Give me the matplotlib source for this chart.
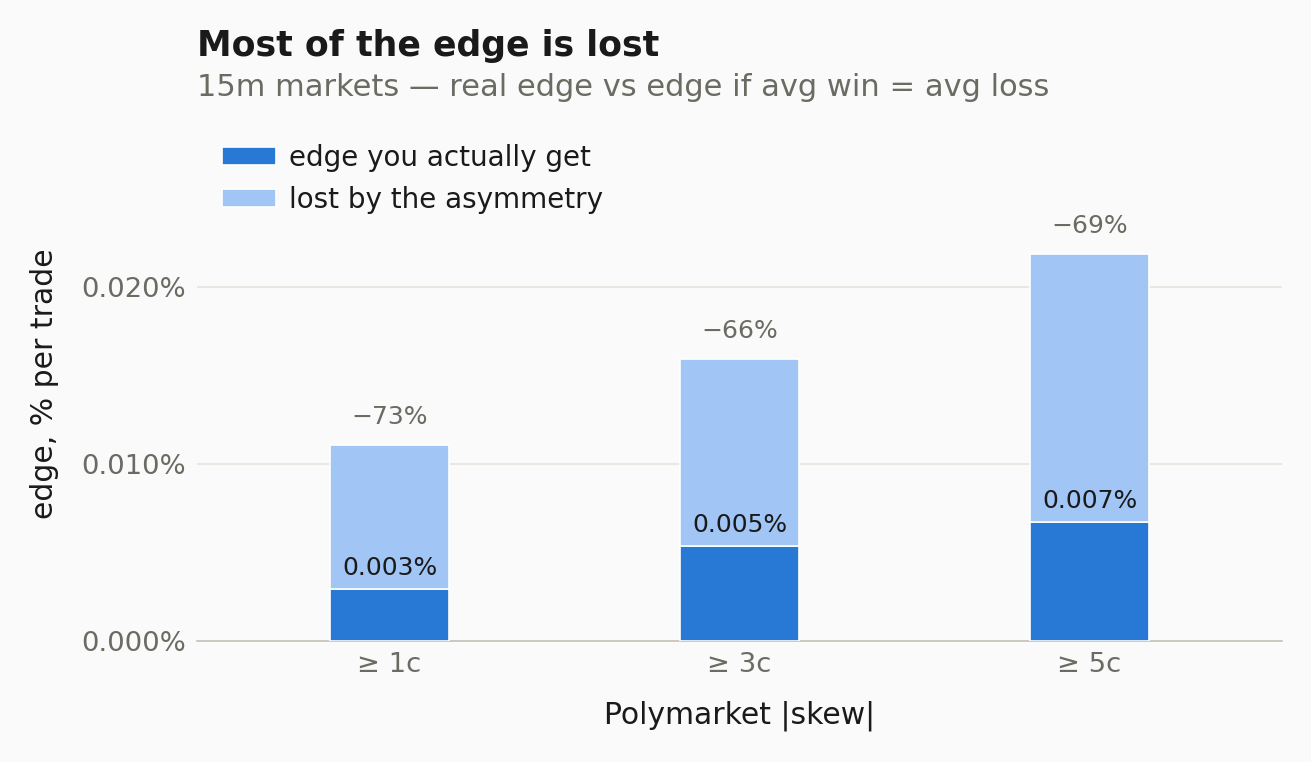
import matplotlib
matplotlib.use("Agg")
import matplotlib.pyplot as plt
import numpy as np
from matplotlib.ticker import FuncFormatter

categories = ["\u2265 1c", "\u2265 3c", "\u2265 5c"]
real_edge = [0.00294, 0.00537, 0.00672]
ideal_edge = [0.01107, 0.01593, 0.02186]

BG = "#fafafa"
DARK = "#2878d6"
LIGHT = "#a1c5f4"
INK = "#1a1a1a"
MUTED = "#6b6b63"

lost = [i - r for i, r in zip(ideal_edge, real_edge)]
x = np.arange(len(categories))

fig = plt.figure(figsize=(13.11, 7.62), dpi=100, facecolor=BG)
ax = fig.add_axes([197 / 1311, 1 - 641 / 762, 1085 / 1311, (641 - 127) / 762])
ax.set_facecolor(BG)

w = 0.34
ax.bar(x, real_edge, w, color=DARK, edgecolor="white", linewidth=1.2,
       label="edge you actually get", zorder=3)
ax.bar(x, lost, w, bottom=real_edge, color=LIGHT, edgecolor="white",
       linewidth=1.2, label="lost by the asymmetry", zorder=3)

for xi, r, t in zip(x, real_edge, ideal_edge):
    ax.text(xi, r + 0.0005, f"{r:.3f}%", ha="center", va="bottom",
            fontsize=18, color=INK, zorder=4)
    pct = round((1 - r / t) * 100)
    ax.text(xi, t + 0.00088, f"\u2212{pct}%", ha="center", va="bottom",
            fontsize=18, color=MUTED, zorder=4)

ax.set_xlim(-0.55, 2.55)
ax.set_ylim(0, 0.029)
ax.set_yticks([0, 0.01, 0.02])
ax.yaxis.set_major_formatter(FuncFormatter(lambda v, p: f"{v:.3f}%"))
ax.set_xticks(x)
ax.set_xticklabels(categories)
ax.tick_params(axis="both", length=0, labelsize=19.7, labelcolor=MUTED, pad=8)
ax.grid(axis="y", color="#e6e4dc", linewidth=1.2, zorder=0)
for s in ["top", "right", "left"]:
    ax.spines[s].set_visible(False)
ax.spines["bottom"].set_color("#c4c2ba")
ax.spines["bottom"].set_linewidth(1.2)

ax.set_xlabel("Polymarket |skew|", fontsize=21.5, color=INK, labelpad=16)
ax.set_ylabel("edge, % per trade", fontsize=21.5, color=INK, labelpad=16)

leg = ax.legend(loc="upper left", frameon=False, fontsize=20,
                handlelength=1.95, handleheight=0.65, handletextpad=0.45,
                bbox_to_anchor=(0.0, 1.016))
for t in leg.get_texts():
    t.set_color(INK)

fig.text(197 / 1311, 1 - 46 / 762, "Most of the edge is lost", fontsize=25,
         fontweight="bold", color=INK, ha="left", va="center")
fig.text(197 / 1311, 1 - 87 / 762,
         "15m markets \u2014 real edge vs edge if avg win = avg loss",
         fontsize=22, color=MUTED, ha="left", va="center")

fig.savefig("out.png", dpi=100, facecolor=BG)
